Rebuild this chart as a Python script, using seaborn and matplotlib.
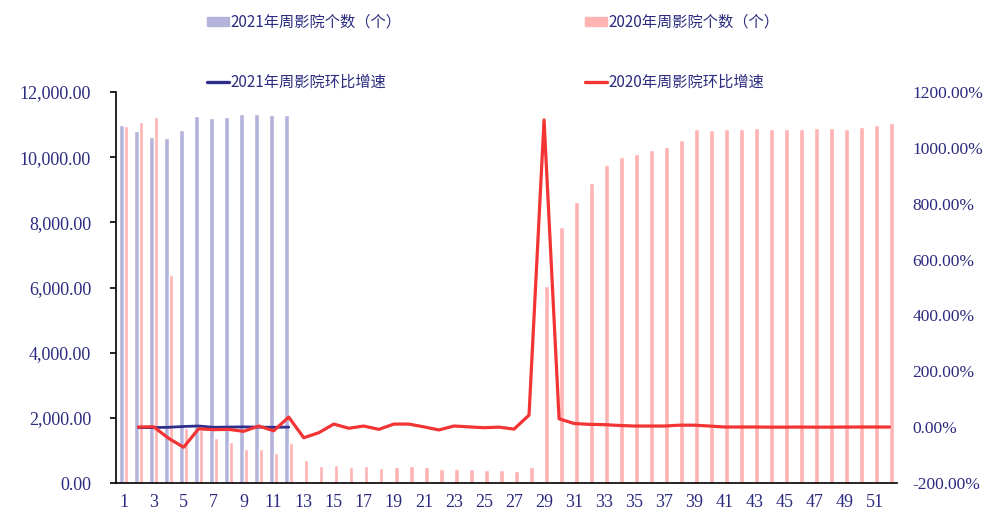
import numpy as np
import pandas as pd
import matplotlib
matplotlib.use("Agg")
import matplotlib.pyplot as plt
import seaborn as sns
from matplotlib.ticker import FuncFormatter
from matplotlib.patches import Patch
from matplotlib.lines import Line2D

# ==============================
# Data
# ==============================

weeks = list(range(1, 53))

cinemas_2021 = [10990, 10800, 10630, 10580, 10830, 11270, 11210, 11240, 11340, 11340,
                11290, 11290]

cinemas_2020 = [10960, 11070, 11240, 6390, 1690, 1630, 1390, 1270, 1030, 1050,
                910, 1220, 715, 520, 550, 490, 520, 470, 490, 520,
                490, 440, 440, 420, 390, 400, 370, 500, 6050, 7870,
                8620, 9200, 9770, 9990, 10110, 10230, 10310, 10540, 10865, 10835,
                10865, 10875, 10896, 10875, 10865, 10865, 10896, 10896, 10865, 10936,
                10988, 11040]

# week-on-week growth (%), starting from week 2
growth_2021 = [-1.7, -1.6, -0.5, 2.4, 4.1, -0.5, 0.3, 0.9, 0.0, -0.4, 0.0]

growth_2020 = [0.5, 1.5, -40, -72, -6, -9, -8, -15, 4, -13, 36,
               -38, -20, 11, -4, 4, -8, 11, 11, 1, -10, 4, 1, -2, 0, -7, 43,
               1100, 30, 13, 10, 9, 6, 4, 4, 4, 7, 7,
               4, 0.5, 0.5, 0.5, 0, 0, 0.3, 0, 0, 0.3, 0.5, 0.5, 0.4]

bar_2021_label = "2021年周影院个数（个）"
bar_2020_label = "2020年周影院个数（个）"
line_2021_label = "2021年周影院环比增速"
line_2020_label = "2020年周影院环比增速"

purple = "#b4b3db"
pink = "#ffb3b3"
navy = "#2e2e8c"
red = "#f23434"
text_navy = "#2b2b80"

# ==============================
# Tables for seaborn
# ==============================

df_bar = pd.concat([
    pd.DataFrame({"week": [str(w) for w in weeks[:len(cinemas_2021)]],
                  "count": cinemas_2021, "series": bar_2021_label}),
    pd.DataFrame({"week": [str(w) for w in weeks],
                  "count": cinemas_2020, "series": bar_2020_label}),
])

pos_2021 = [w - 1 for w in weeks[1:len(growth_2021) + 1]]
pos_2020 = [w - 1 for w in weeks[1:len(growth_2020) + 1]]

# ==============================
# Plot
# ==============================

sns.set_style("white")
plt.rcParams["font.family"] = ["Noto Sans CJK SC", "DejaVu Sans"]

fig = plt.figure(figsize=(9.86, 5.16), dpi=100)
ax = fig.add_axes([116 / 986, 1 - 483 / 516, (897 - 116) / 986, (483 - 92) / 516])

sns.barplot(data=df_bar, x="week", y="count", hue="series",
            order=[str(w) for w in weeks],
            hue_order=[bar_2021_label, bar_2020_label],
            palette=[purple, pink], saturation=1, width=0.62,
            errorbar=None, legend=False, ax=ax)

ax2 = ax.twinx()
sns.lineplot(x=pos_2021, y=growth_2021, color=navy, linewidth=2.0, ax=ax2)
sns.lineplot(x=pos_2020, y=growth_2020, color=red, linewidth=2.3, ax=ax2)

ax.set_xlim(-0.5, len(weeks) - 0.5)
ax.set_ylim(0, 12000)
ax2.set_ylim(-200, 1200)

ax.set_xlabel("")
ax.set_ylabel("")
ax2.set_xlabel("")
ax2.set_ylabel("")

# x ticks: labels every other week, tick marks on category boundaries
ax.set_xticks(range(0, len(weeks), 2))
ax.set_xticklabels([str(w) for w in weeks[::2]])
ax.set_xticks(np.arange(-0.5, len(weeks), 1), minor=True)
ax.tick_params(axis="x", which="major", length=0, pad=8, labelsize=13,
               labelcolor=text_navy, labelfontfamily="Liberation Serif")
ax.tick_params(axis="x", which="minor", length=4, width=1.2, direction="in",
               color="black")

ax.set_yticks(range(0, 12001, 2000))
ax.yaxis.set_major_formatter(FuncFormatter(lambda v, p: f"{v:,.2f}"))
ax.tick_params(axis="y", length=4, width=1.2, direction="out", color="black",
               pad=14, labelsize=13, labelcolor=text_navy,
               labelfontfamily="Liberation Serif")

ax2.set_yticks(range(-200, 1201, 200))
ax2.yaxis.set_major_formatter(FuncFormatter(lambda v, p: f"{v:.2f}%"))
ax2.tick_params(axis="y", length=0, pad=11, labelsize=12.5, labelcolor=text_navy,
                labelfontfamily="Liberation Serif")

for s in ["top", "right"]:
    ax.spines[s].set_visible(False)
for s in ["top", "right", "left", "bottom"]:
    ax2.spines[s].set_visible(False)
for s in ["left", "bottom"]:
    ax.spines[s].set_color("black")
    ax.spines[s].set_linewidth(1.2)

# ==============================
# Legend (two columns on top)
# ==============================

leg_kw = dict(ncol=1, loc="upper left", frameon=False, fontsize=11,
              labelcolor=text_navy, handlelength=1.45, handletextpad=0.1,
              labelspacing=2.85, borderpad=0, handleheight=0.55)

fig.legend(handles=[Patch(color=purple, label=bar_2021_label),
                    Line2D([], [], color=navy, linewidth=2.4, label=line_2021_label)],
           bbox_to_anchor=(199 / 986, 1 - 6 / 516), **leg_kw)
fig.legend(handles=[Patch(color=pink, label=bar_2020_label),
                    Line2D([], [], color=red, linewidth=2.4, label=line_2020_label)],
           bbox_to_anchor=(577 / 986, 1 - 6 / 516), **leg_kw)

fig.savefig("out.png", dpi=100)
